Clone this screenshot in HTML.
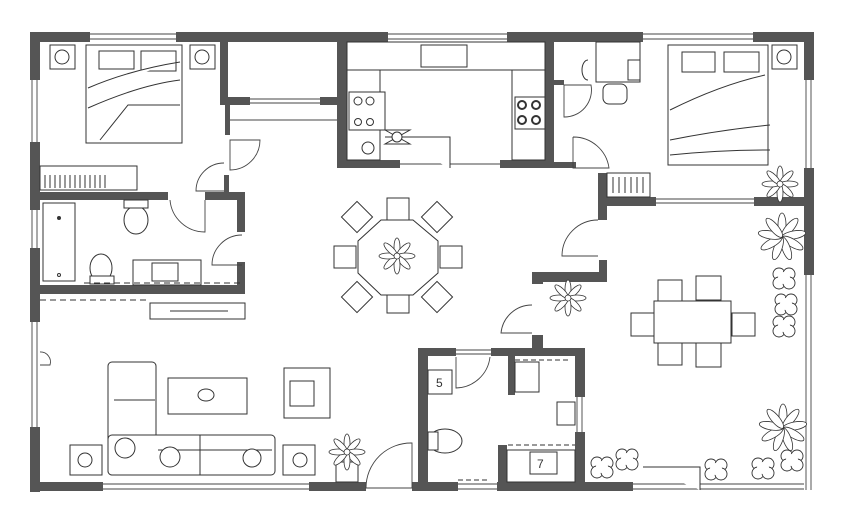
<!DOCTYPE html>
<html><head><meta charset="utf-8"><style>html,body{margin:0;padding:0;background:#fff}svg{display:block}</style></head>
<body>
<svg width="843" height="523" viewBox="0 0 843 523" xmlns="http://www.w3.org/2000/svg">
<defs>
<g id="star" fill="#fff" stroke="#333" stroke-width="0.8">
<ellipse cx="0" cy="-9" rx="3" ry="9"/><ellipse cx="0" cy="-9" rx="3" ry="9" transform="rotate(45)"/>
<ellipse cx="0" cy="-9" rx="3" ry="9" transform="rotate(90)"/><ellipse cx="0" cy="-9" rx="3" ry="9" transform="rotate(135)"/>
<ellipse cx="0" cy="-9" rx="3" ry="9" transform="rotate(180)"/><ellipse cx="0" cy="-9" rx="3" ry="9" transform="rotate(225)"/>
<ellipse cx="0" cy="-9" rx="3" ry="9" transform="rotate(270)"/><ellipse cx="0" cy="-9" rx="3" ry="9" transform="rotate(315)"/>
<circle r="3"/></g>
<g id="bigstar" fill="#fff" stroke="#333" stroke-width="0.8">
<ellipse cx="0" cy="-12" rx="4" ry="12"/><ellipse cx="0" cy="-12" rx="4" ry="12" transform="rotate(40)"/>
<ellipse cx="0" cy="-12" rx="4" ry="12" transform="rotate(80)"/><ellipse cx="0" cy="-12" rx="4" ry="12" transform="rotate(120)"/>
<ellipse cx="0" cy="-12" rx="4" ry="12" transform="rotate(160)"/><ellipse cx="0" cy="-12" rx="4" ry="12" transform="rotate(200)"/>
<ellipse cx="0" cy="-12" rx="4" ry="12" transform="rotate(240)"/><ellipse cx="0" cy="-12" rx="4" ry="12" transform="rotate(280)"/>
<ellipse cx="0" cy="-12" rx="4" ry="12" transform="rotate(320)"/></g>
<g id="bush" fill="#fff" stroke="#333" stroke-width="0.9">
<circle cx="-5" cy="-4" r="6"/><circle cx="5" cy="-4" r="6"/><circle cx="-5" cy="5" r="6"/><circle cx="5" cy="5" r="6"/><circle r="6" stroke="none"/></g>
</defs>
<g fill="#555">
<rect x="30" y="32" width="60" height="10"/><rect x="176" y="32" width="212" height="10"/>
<rect x="507" y="32" width="136" height="10"/><rect x="753" y="32" width="61" height="10"/>
<rect x="30" y="32" width="10" height="48"/><rect x="30" y="142" width="10" height="68"/>
<rect x="30" y="248" width="10" height="74"/><rect x="30" y="427" width="10" height="65"/>
<rect x="30" y="482" width="73" height="9"/><rect x="309" y="482" width="57" height="9"/>
<rect x="412" y="482" width="46" height="9"/><rect x="497" y="482" width="136" height="9"/>
<rect x="804" y="32" width="10" height="48"/><rect x="804" y="168" width="10" height="107"/>
<rect x="220" y="42" width="8" height="63"/><rect x="220" y="97" width="30" height="8"/><rect x="320" y="97" width="27" height="8"/>
<rect x="337" y="42" width="10" height="126"/><rect x="337" y="160" width="63" height="8"/>
<rect x="225" y="105" width="5" height="30"/><rect x="224" y="175" width="5" height="20"/>
<rect x="40" y="192" width="128" height="8"/><rect x="205" y="192" width="40" height="8"/>
<rect x="237" y="192" width="8" height="40"/><rect x="237" y="262" width="8" height="32"/>
<rect x="40" y="285" width="205" height="9"/>
<rect x="545" y="42" width="9" height="126"/><rect x="500" y="160" width="54" height="8"/>
<rect x="554" y="80" width="10" height="5"/><rect x="554" y="162" width="22" height="6"/>
<rect x="598" y="173" width="9" height="47"/><rect x="598" y="197" width="58" height="9"/><rect x="754" y="197" width="60" height="9"/>
<rect x="599" y="260" width="8" height="22"/><rect x="532" y="272" width="75" height="10"/><rect x="532" y="272" width="11" height="12"/>
<rect x="532" y="335" width="11" height="15"/>
<rect x="418" y="348" width="38" height="8"/><rect x="491" y="348" width="94" height="8"/>
<rect x="418" y="348" width="10" height="142"/><rect x="508" y="348" width="7" height="47"/>
<rect x="575" y="348" width="10" height="49"/><rect x="575" y="432" width="10" height="58"/>
<rect x="498" y="445" width="9" height="45"/>
</g>
<g fill="none" stroke="#444" stroke-width="0.9">
<path d="M90 34H176M90 39H176M388 34H507M388 39H507M643 34H753M643 39H753"/>
<path d="M32 80V142M37 80V142M32 210V248M37 210V248M32 322V427M37 322V427"/>
<path d="M103 484H309M103 489H309M458 484H497M458 489H497M633 484H804M633 489H804"/>
<path d="M806 80V168M811 80V168M806 275V490M811 275V490"/>
<path d="M250 99H320M250 103H320M656 199H754M656 203H754M456 350H491M456 354H491M577 397V432M582 397V432"/>
<path d="M230 120H337M400 164H500"/>
<path d="M230 140H260A30 30 0 0 1 230 170Z"/>
<path d="M224 163A28 28 0 0 0 196 191H224"/>
<path d="M170 200A35 35 0 0 0 205 232V200"/>
<path d="M242 235A30 30 0 0 0 212 265H242"/>
<path d="M564 85V117A27 27 0 0 0 591 85Z"/>
<path d="M573 137V168H609A36 36 0 0 0 573 137"/>
<path d="M598 220A36 36 0 0 0 562 256H598"/>
<path d="M532 305A31 31 0 0 0 501 333H532"/>
<path d="M456 357V388A35 35 0 0 0 490 357"/>
<path d="M412 443A45 45 0 0 0 366 488H412Z"/>
<path d="M40 352A10 10 0 0 1 50 365H40"/>
</g>
<g fill="#fff" stroke="#333" stroke-width="1">
<rect x="50" y="45" width="25" height="24"/><circle cx="62" cy="57" r="7"/>
<rect x="190" y="45" width="25" height="24"/><circle cx="202" cy="57" r="7"/>
<rect x="86" y="45" width="96" height="98"/><rect x="99" y="51" width="35" height="18"/><rect x="141" y="51" width="35" height="20"/>
<path d="M88 88Q130 70 180 62M88 108Q140 85 180 80M100 140L128 105H180"/>
<rect x="40" y="166" width="97" height="24"/>
<path d="M45 175V188M50 175V188M55 175V188M60 175V188M65 175V188M70 175V188M75 175V188M80 175V188M85 175V188M90 175V188M95 175V188M100 175V188M105 175V188"/>
<rect x="43" y="203" width="32" height="78"/><circle cx="59" cy="218" r="1.5" fill="#333"/><circle cx="59" cy="275" r="1.5"/>
<ellipse cx="136" cy="220" rx="12" ry="14"/><rect x="124" y="200" width="24" height="8"/>
<ellipse cx="101" cy="268" rx="11" ry="14"/><rect x="90" y="276" width="24" height="8"/>
<rect x="133" y="260" width="68" height="25"/><rect x="152" y="263" width="26" height="18"/>
<path d="M84 283H240M40 300H150" stroke-dasharray="6 4"/>
<rect x="150" y="303" width="95" height="16"/><path d="M170 311H228"/>
<rect x="347" y="42" width="198" height="28"/><rect x="347" y="70" width="33" height="90"/><rect x="512" y="70" width="33" height="90"/>
<rect x="421" y="45" width="46" height="22"/><rect x="349" y="92" width="36" height="38"/>
<circle cx="358" cy="101" r="4"/><circle cx="370" cy="101" r="4"/><circle cx="358" cy="122" r="3.5"/><circle cx="370" cy="122" r="3.5"/>
<rect x="515" y="97" width="30" height="32"/><circle cx="522" cy="105" r="4" stroke-width="2"/><circle cx="536" cy="105" r="4" stroke-width="2"/><circle cx="522" cy="120" r="4" stroke-width="2"/><circle cx="536" cy="120" r="4" stroke-width="2"/>
<path d="M385 137H450V168M385 130L410 144L385 144L410 130Z"/><circle cx="397" cy="137" r="5"/><circle cx="368" cy="148" r="6"/>
<rect x="596" y="42" width="44" height="40"/><rect x="628" y="60" width="12" height="20"/><path d="M588 60A6 10 0 0 0 588 80"/>
<rect x="603" y="84" width="24" height="20" rx="6"/>
<rect x="668" y="45" width="100" height="120"/><rect x="682" y="52" width="33" height="20"/><rect x="724" y="52" width="35" height="20"/>
<path d="M670 110Q720 85 765 75M670 140Q720 130 770 125M670 155Q720 150 770 150"/>
<rect x="772" y="45" width="25" height="24"/><circle cx="784" cy="57" r="7"/>
<rect x="607" y="173" width="43" height="24"/><path d="M613 177V193M619 177V193M625 177V193M631 177V193M637 177V193M643 177V193"/>
<rect x="387" y="198" width="22" height="22"/><rect x="387" y="291" width="22" height="22"/>
<rect x="334" y="246" width="22" height="22"/><rect x="440" y="246" width="22" height="22"/>
<rect x="-11" y="-11" width="22" height="22" transform="translate(357 217) rotate(45)"/>
<rect x="-11" y="-11" width="22" height="22" transform="translate(437 217) rotate(45)"/>
<rect x="-11" y="-11" width="22" height="22" transform="translate(357 297) rotate(45)"/>
<rect x="-11" y="-11" width="22" height="22" transform="translate(437 297) rotate(45)"/>
<polygon points="381,220 413,220 438,241 438,273 413,295 381,295 358,273 358,241"/>
<rect x="658" y="280" width="24" height="22"/><rect x="696" y="276" width="25" height="24"/>
<rect x="658" y="343" width="24" height="22"/><rect x="696" y="343" width="25" height="24"/>
<rect x="631" y="313" width="24" height="23"/><rect x="732" y="313" width="23" height="23"/>
<rect x="654" y="301" width="77" height="42"/>
<rect x="70" y="445" width="32" height="30"/><circle cx="85" cy="460" r="7"/>
<rect x="283" y="445" width="32" height="30"/><circle cx="300" cy="460" r="7"/>
<rect x="108" y="362" width="48" height="113" rx="4"/><rect x="108" y="435" width="167" height="40" rx="4"/>
<path d="M114 400H155M114 435H155M200 435V475M158 450H272"/>
<circle cx="125" cy="448" r="10"/><circle cx="170" cy="457" r="10"/><circle cx="252" cy="458" r="9"/>
<rect x="168" y="378" width="79" height="36"/><ellipse cx="206" cy="395" rx="8" ry="6"/>
<rect x="284" y="368" width="46" height="50"/><rect x="290" y="381" width="24" height="25"/>
<rect x="336" y="462" width="22" height="20"/>
<rect x="428" y="370" width="24" height="24"/><ellipse cx="445" cy="441" rx="17" ry="12"/><rect x="428" y="432" width="10" height="18"/>
<rect x="515" y="362" width="24" height="30"/><rect x="557" y="402" width="18" height="23"/>
<rect x="507" y="450" width="68" height="32"/><rect x="530" y="452" width="27" height="22"/>
<path d="M508 445H575M515 360H570M458 480H490" stroke-dasharray="5 3"/>
<path d="M643 467H700V490M700 467V490"/>
</g>
<use href="#star" x="397" y="256"/>
<use href="#star" x="568" y="298"/>
<use href="#star" x="780" y="184"/>
<use href="#bigstar" x="782" y="237"/>
<use href="#bigstar" x="783" y="428"/>
<use href="#star" x="347" y="452"/>
<use href="#bush" x="784" y="278"/><use href="#bush" x="786" y="304"/><use href="#bush" x="784" y="326"/>
<use href="#bush" x="602" y="467"/><use href="#bush" x="627" y="459"/><use href="#bush" x="716" y="469"/>
<use href="#bush" x="763" y="468"/><use href="#bush" x="792" y="460"/>
<g fill="#333" font-family="Liberation Sans, sans-serif" font-size="12"><text x="436" y="387">5</text><text x="537" y="468">7</text></g>
</svg>
</body></html>
